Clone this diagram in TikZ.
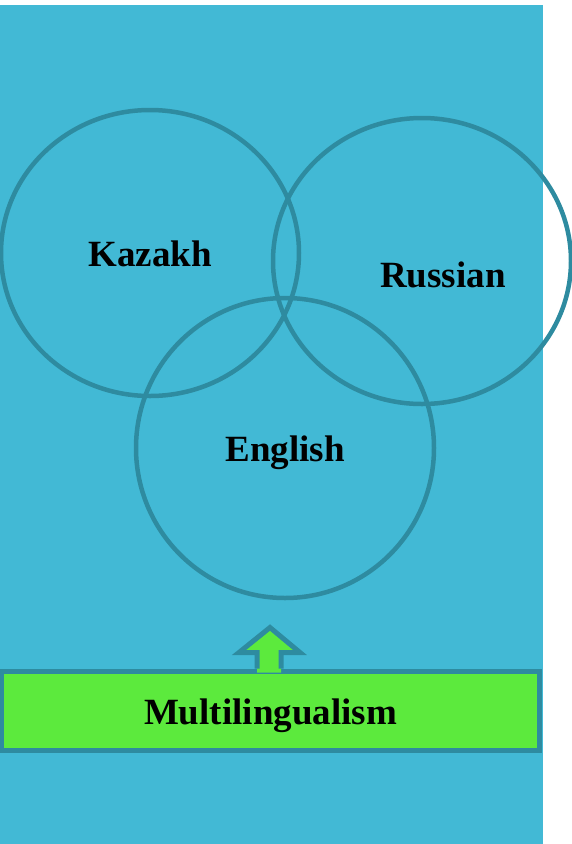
\documentclass[tikz,border=0pt]{standalone}
\usepackage{fontspec}
\setmainfont{Liberation Serif}
\usetikzlibrary{shapes.geometric, positioning, calc}
\definecolor{slideBlue}{RGB}{66, 185, 213}
\definecolor{ringTeal}{RGB}{46, 139, 160}
\definecolor{boxGreen}{RGB}{92, 234, 61}

\begin{document}
\begin{tikzpicture}[
            x=1pt, y=-1pt,
            lang/.style={ellipse, draw=ringTeal, line width=4.5pt, minimum width=298pt, minimum height=286pt},
            langlabel/.style={font=\fontsize{37}{40}\selectfont\bfseries, text=black},
            banner/.style={rectangle, fill=boxGreen, draw=ringTeal, line width=5pt, minimum width=538pt,
                           minimum height=79pt, text height=36pt, text depth=8pt,
                           font=\fontsize{37}{40}\selectfont\bfseries, align=center}
        ]
            \useasboundingbox (0,0) rectangle (572,844);
            \fill[slideBlue] (0,5) rectangle (543,844);

            % Circles
            \node[lang] (kazakh) at (150,253) {};
            \node[lang] (russian) at (422,261) {};
            \node[lang, minimum height=300pt] (english) at (285,448) {};

            % Labels
            \node[langlabel] at ($(kazakh)+(0,1)$) {Kazakh};
            \node[langlabel] at ($(russian)+(21,14)$) {Russian};
            \node[langlabel] at ($(english)+(0,5)$) {English};

            % Bottom banner with arrow
            \node[banner] (multi) at (270.5,710.5) {Multilingualism};
            \fill[boxGreen] ($(multi.north)+(-13.5,4)$) -- ++(0,-18) -- ++(-18,0) -- ($(multi.north)+(-0.5,-41)$)
                -- ($(multi.north)+(29.5,-16)$) -- ++(-19,0) -- ++(0,20) -- cycle;
            \draw[ringTeal, line width=5pt, line join=miter] ($(multi.north)+(-13.5,0)$) -- ++(0,-16) -- ++(-18,0)
                -- ($(multi.north)+(-0.5,-41)$) -- ($(multi.north)+(29.5,-16)$) -- ++(-19,0) -- ++(0,16);
        \end{tikzpicture}
\end{document}
